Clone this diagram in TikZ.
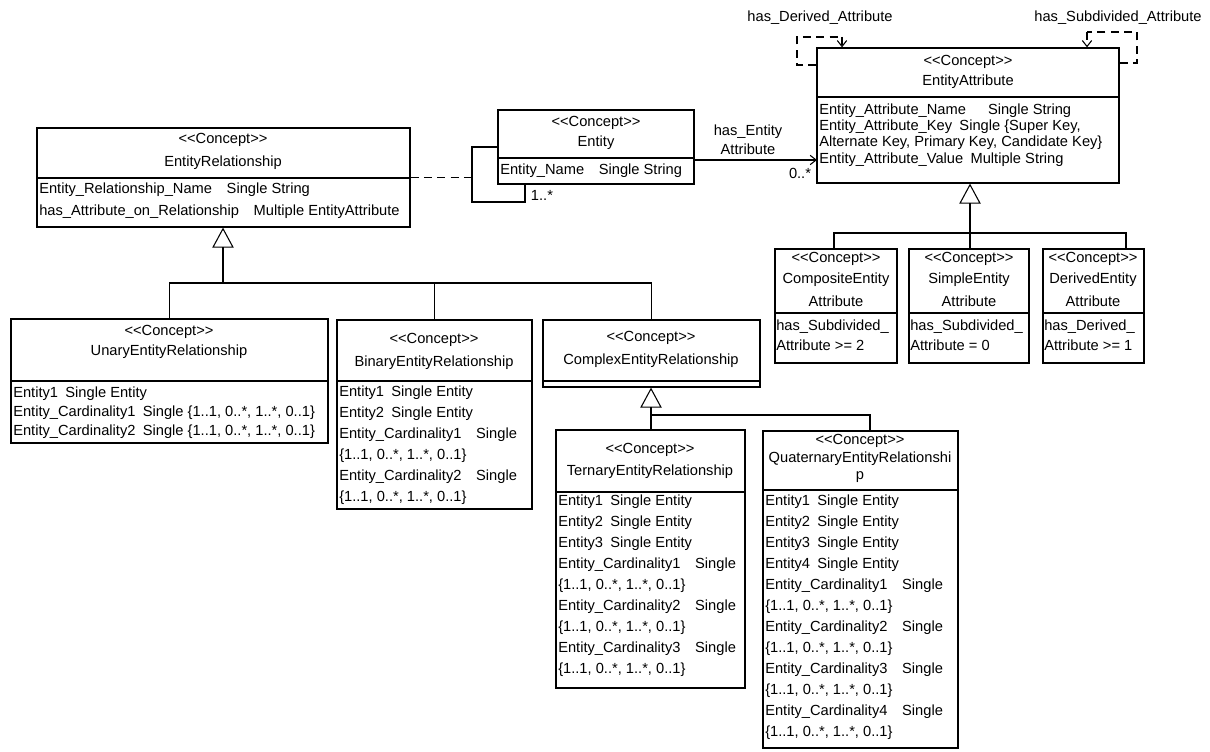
\documentclass[tikz,border=0pt]{standalone}
\usepackage{fontspec}
\setmainfont{Liberation Sans}
\usetikzlibrary{arrows.meta,fit}
\newcommand{\stereoC}{<\kern0pt<Concept>\kern0pt>}
\begin{document}
\begin{tikzpicture}[x=0.75pt,y=-0.75pt,
  box/.style={draw, line width=0.9pt, inner sep=0pt},
  txt/.style={inner sep=0pt, font=\fontsize{11}{13}\selectfont},
  attr/.style={txt, anchor=west},
  ln/.style={line width=0.8pt},
  nav/.style={ln, -{Straight Barb[length=4.5pt,width=7pt]}},
  gen/.style={ln, -{Triangle[open,length=15pt,width=16pt,line width=0.8pt]}},
  dashl/.style={ln, dash pattern=on 6pt off 4pt}]
\useasboundingbox (0,0) rectangle (1210,752);

% ---------- EntityAttribute ----------
\node[box, fit={(817,48)(1119,183)}] (ea) {};
\draw[ln] (817,97) -- (1119,97);
\node[txt] (ea1) at (968,62) {\stereoC};
\node[txt] (ea2) at (968,82) {EntityAttribute};
\node[attr] (ea3) at (819,111) {Entity\_Attribute\_Name\quad\enspace Single String};
\node[attr] (ea4) at (819,127) {Entity\_Attribute\_Key\enspace Single \{Super Key,};
\node[attr] (ea5) at (819,143) {Alternate Key, Primary Key, Candidate Key\}};
\node[attr] (ea6) at (819,160) {Entity\_Attribute\_Value\enspace Multiple String};

% ---------- Entity ----------
\node[box, fit={(498,110)(694,184)}] (en) {};
\draw[ln] (498,158) -- (694,158);
\node[txt] (en1) at (596,123) {\stereoC};
\node[txt] (en2) at (596,143) {Entity};
\node[attr] (en3) at (500,171) {Entity\_Name\quad Single String};

% ---------- EntityRelationship ----------
\node[box, fit={(37,128)(410,227)}] (er) {};
\draw[ln] (37,178) -- (410,178);
\node[txt] (er1) at (223,140) {\stereoC};
\node[txt] (er2) at (223,163) {EntityRelationship};
\node[attr] (er3) at (39,190) {Entity\_Relationship\_Name\quad Single String};
\node[attr] (er4) at (39,212) {has\_Attribute\_on\_Relationship\quad Multiple EntityAttribute};

% ---------- attribute subclasses ----------
\node[box, fit={(775,249)(897,363)}] (co) {};
\draw[ln] (775,313) -- (897,313);
\node[txt] (co1) at (836,259) {\stereoC};
\node[txt] (co2) at (836,280) {CompositeEntity};
\node[txt] (co3) at (836,301) {Attribute};
\node[attr] (co4) at (776,327) {has\_Subdivided\_};
\node[attr] (co5) at (776,345) {Attribute >= 2};

\node[box, fit={(909,249)(1029,363)}] (si) {};
\draw[ln] (909,313) -- (1029,313);
\node[txt] (si1) at (969,259) {\stereoC};
\node[txt] (si2) at (969,280) {SimpleEntity};
\node[txt] (si3) at (969,301) {Attribute};
\node[attr] (si4) at (910,327) {has\_Subdivided\_};
\node[attr] (si5) at (910,345) {Attribute = 0};

\node[box, fit={(1043,249)(1144,363)}] (de) {};
\draw[ln] (1043,313) -- (1144,313);
\node[txt] (de1) at (1093,259) {\stereoC};
\node[txt] (de2) at (1093,280) {DerivedEntity};
\node[txt] (de3) at (1093,301) {Attribute};
\node[attr] (de4) at (1044,327) {has\_Derived\_};
\node[attr] (de5) at (1044,345) {Attribute >= 1};

% ---------- Unary ----------
\node[box, fit={(11,319)(328,443)}] (un) {};
\draw[ln] (11,381) -- (328,381);
\node[txt] (un1) at (169,332) {\stereoC};
\node[txt] (un2) at (169,352) {UnaryEntityRelationship};
\node[attr] (un3) at (13,394) {Entity1\enspace Single Entity};
\node[attr] (un4) at (13,413) {Entity\_Cardinality1\enspace Single \{1..1, 0..*, 1..*, 0..1\}};
\node[attr] (un5) at (13,432) {Entity\_Cardinality2\enspace Single \{1..1, 0..*, 1..*, 0..1\}};

% ---------- Binary ----------
\node[box, fit={(337,320)(532,509)}] (bi) {};
\draw[ln] (337,381) -- (532,381);
\node[txt] (bi1) at (434,340) {\stereoC};
\node[txt] (bi2) at (434,363) {BinaryEntityRelationship};
\node[attr] (bi3) at (339,393) {Entity1\enspace Single Entity};
\node[attr] (bi4) at (339,414) {Entity2\enspace Single Entity};
\node[attr] (bi5) at (339,435) {Entity\_Cardinality1\quad Single};
\node[attr] (bi6) at (339,456) {\{1..1, 0..*, 1..*, 0..1\}};
\node[attr] (bi7) at (339,477) {Entity\_Cardinality2\quad Single};
\node[attr] (bi8) at (339,498) {\{1..1, 0..*, 1..*, 0..1\}};

% ---------- Complex ----------
\node[box, fit={(543,320)(760,387)}] (cx) {};
\draw[ln] (543,381) -- (760,381);
\node[txt] (cx1) at (651,338) {\stereoC};
\node[txt] (cx2) at (651,361) {ComplexEntityRelationship};

% ---------- Ternary ----------
\node[box, fit={(556,430)(745,688)}] (te) {};
\draw[ln] (556,492) -- (745,492);
\node[txt] (te1) at (650,450) {\stereoC};
\node[txt] (te2) at (650,472) {TernaryEntityRelationship};
\node[attr] (te3) at (558,502) {Entity1\enspace Single Entity};
\node[attr] (te4) at (558,523) {Entity2\enspace Single Entity};
\node[attr] (te5) at (558,544) {Entity3\enspace Single Entity};
\node[attr] (te6) at (558,565) {Entity\_Cardinality1\quad Single};
\node[attr] (te7) at (558,586) {\{1..1, 0..*, 1..*, 0..1\}};
\node[attr] (te8) at (558,607) {Entity\_Cardinality2\quad Single};
\node[attr] (te9) at (558,628) {\{1..1, 0..*, 1..*, 0..1\}};
\node[attr] (te10) at (558,649) {Entity\_Cardinality3\quad Single};
\node[attr] (te11) at (558,670) {\{1..1, 0..*, 1..*, 0..1\}};

% ---------- Quaternary ----------
\node[box, fit={(763,431)(958,748)}] (qu) {};
\draw[ln] (763,490) -- (958,490);
\node[txt] (qu1) at (860,441) {\stereoC};
\node[txt] (qu2) at (860,459) {QuaternaryEntityRelationshi};
\node[txt] (qu3) at (860,477) {p};
\node[attr] (qu4) at (765,502) {Entity1\enspace Single Entity};
\node[attr] (qu5) at (765,523) {Entity2\enspace Single Entity};
\node[attr] (qu6) at (765,544) {Entity3\enspace Single Entity};
\node[attr] (qu7) at (765,565) {Entity4\enspace Single Entity};
\node[attr] (qu8) at (765,586) {Entity\_Cardinality1\quad Single};
\node[attr] (qu9) at (765,607) {\{1..1, 0..*, 1..*, 0..1\}};
\node[attr] (qu10) at (765,628) {Entity\_Cardinality2\quad Single};
\node[attr] (qu11) at (765,649) {\{1..1, 0..*, 1..*, 0..1\}};
\node[attr] (qu12) at (765,670) {Entity\_Cardinality3\quad Single};
\node[attr] (qu13) at (765,691) {\{1..1, 0..*, 1..*, 0..1\}};
\node[attr] (qu14) at (765,712) {Entity\_Cardinality4\quad Single};
\node[attr] (qu15) at (765,733) {\{1..1, 0..*, 1..*, 0..1\}};

% ---------- association Entity -> EntityAttribute ----------
\coordinate (eain) at (817,160);
\draw[nav] (en.east |- eain) -- (eain);
\node[txt, align=center] (lab1) at (748,140) {has\_Entity\\[1pt]Attribute};
\node[txt] (lab2) at (800,173) {0..*};

% ---------- self association on Entity with association class ----------
\coordinate (lp1) at (472,202);
\coordinate (lp2) at (525,202);
\draw[ln] (en.west) -| (lp1) -| (en.south -| lp2);
\node[txt] (lab3) at (542,195) {1..*};
\draw[dashl] (er.east) -- (er.east -| lp1);

% ---------- self loops on EntityAttribute ----------
\coordinate (d1) at (797,65);
\coordinate (d2) at (842,37);
\draw[dashl] (ea.west |- d1) -- (d1) |- (d2);
\draw[nav, dashl] (d2) -- (d2 |- ea.north);
\node[txt] (lab4) at (820,18) {has\_Derived\_Attribute};

\coordinate (s1) at (1137,63);
\coordinate (s2) at (1087,32);
\draw[dashl] (ea.east |- s1) -- (s1) |- (s2);
\draw[nav, dashl] (s2) -- (s2 |- ea.north);
\node[txt] (lab5) at (1118,18) {has\_Subdivided\_Attribute};

% ---------- generalisations ----------
\coordinate (eab) at (970,233);
\coordinate (cob) at (834,233);
\coordinate (deb) at (1126,233);
\draw[gen] (eab) -- (ea.south -| eab);
\draw[ln] (co.north -| cob) -- (cob) -- (deb) -- (de.north -| deb);
\draw[ln] (si.north -| eab) -- (eab);

\coordinate (erb) at (223,283);
\draw[gen] (erb) -- (er.south -| erb);
\draw[ln] (un.north) |- (erb) -| (cx.north);
\draw[ln] (bi.north) -- (bi.north |- erb);

\coordinate (cxb) at (651,415);
\coordinate (qub) at (870,415);
\draw[gen] (cxb) -- (cx.south -| cxb);
\draw[ln] (te.north -| cxb) -- (cxb) -- (qub) -- (qu.north -| qub);
\end{tikzpicture}
\end{document}
